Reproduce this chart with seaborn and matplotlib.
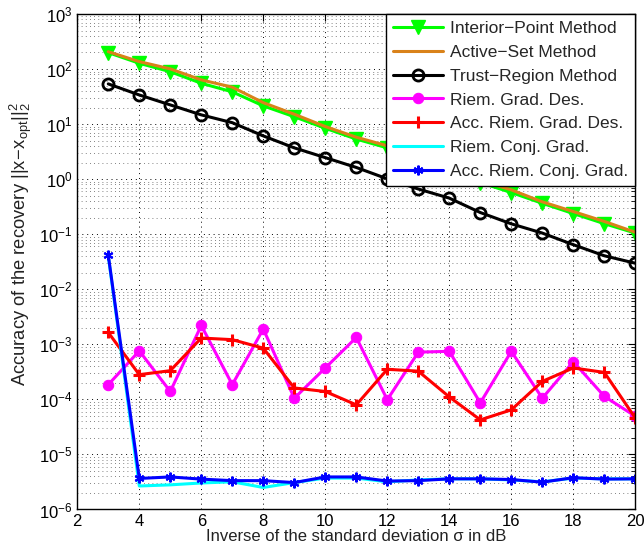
import numpy as np
import pandas as pd
import matplotlib
matplotlib.use("Agg")
import matplotlib.pyplot as plt
import seaborn as sns
from matplotlib.ticker import LogLocator, FixedLocator, NullFormatter

x = list(range(3, 21))
interior_point = [198.5, 127.2, 89.3, 55.1, 38.5, 21.4, 13.6, 8.4, 5.34, 3.70, 2.32, 1.585, 0.866, 0.571,
                  0.364, 0.237, 0.1554, 0.1048]
active_set = [206.5, 136.4, 100.6, 63.5, 46.8, 24.5, 15.1, 9.03, 5.78, 4.03, 2.49, 1.65, 0.945, 0.639,
              0.387, 0.258, 0.1706, 0.1084]
trust_region = [53.7, 33.8, 22.3, 14.7, 10.6, 6.10, 3.70, 2.46, 1.63, 1.013, 0.662, 0.452, 0.2475, 0.1543,
                0.1048, 0.0645, 0.0406, 0.0297]
riem_gd = [1.85e-4, 7.60e-4, 1.39e-4, 2.20e-3, 1.85e-4, 1.90e-3, 1.05e-4, 3.72e-4, 1.33e-3, 9.86e-5,
           7.20e-4, 7.46e-4, 8.63e-5, 7.46e-4, 1.05e-4, 4.84e-4, 1.135e-4, 4.93e-5]
acc_riem_gd = [1.64e-3, 2.81e-4, 3.32e-4, 1.30e-3, 1.215e-3, 8.51e-4, 1.61e-4, 1.39e-4, 7.95e-5, 3.52e-4,
               3.25e-4, 1.108e-4, 4.24e-5, 6.45e-5, 2.12e-4, 3.72e-4, 3.09e-4, 4.58e-5]
riem_cg = [4.0e-2, 2.67e-6, 2.80e-6, 3.03e-6, 3.18e-6, 2.51e-6, 3.08e-6, 3.72e-6, 3.72e-6, 3.18e-6,
           3.44e-6, 3.60e-6, 3.60e-6, 3.44e-6, 3.18e-6, 3.72e-6, 3.60e-6, 3.60e-6]
acc_riem_cg = [4.15e-2, 3.66e-6, 3.90e-6, 3.56e-6, 3.34e-6, 3.34e-6, 3.08e-6, 3.90e-6, 3.90e-6, 3.28e-6,
               3.34e-6, 3.60e-6, 3.60e-6, 3.50e-6, 3.13e-6, 3.78e-6, 3.56e-6, 3.60e-6]

labels = ["Interior\u2212Point Method", "Active\u2212Set Method", "Trust\u2212Region Method",
          "Riem. Grad. Des.", "Acc. Riem. Grad. Des.", "Riem. Conj. Grad.", "Acc. Riem. Conj. Grad."]
series = [interior_point, active_set, trust_region, riem_gd, acc_riem_gd, riem_cg, acc_riem_cg]
x_ticks = [2, 4, 6, 8, 10, 12, 14, 16, 18, 20]

sns.set_theme(style="white")
plt.rcParams["font.family"] = ["Liberation Sans", "DejaVu Sans"]
plt.rcParams["mathtext.fontset"] = "custom"
plt.rcParams["mathtext.rm"] = "Liberation Sans"
plt.rcParams["mathtext.it"] = "Liberation Sans"
plt.rcParams["mathtext.default"] = "regular"

fig = plt.figure(figsize=(6.44, 5.48), dpi=100)
ax = fig.add_axes([0.120, 0.0703, 0.8665, 0.9042])

styles = [
    dict(color="#00FF00", marker="v", markersize=9.5, markeredgewidth=1,
         markeredgecolor="#00FF00", markerfacecolor="#00FF00"),
    dict(color="#D9821A", marker="None"),
    dict(color="black", marker="o", markersize=8, markerfacecolor="none",
         markeredgecolor="black", markeredgewidth=2),
    dict(color="#FF00FF", marker="o", markersize=7.5, markeredgecolor="#FF00FF",
         markerfacecolor="#FF00FF"),
    dict(color="#FF0000", marker="+", markersize=9, markeredgewidth=2.2, markeredgecolor="#FF0000"),
    dict(color="#00FFFF", marker="None"),
    dict(color="#0000FF", marker=(6, 2, 0), markersize=7, markeredgewidth=1.5, markeredgecolor="#0000FF"),
]

for lab, vals, st in zip(labels, series, styles):
    df = pd.DataFrame({"x": x, "y": vals})
    sns.lineplot(data=df, x="x", y="y", ax=ax, label=lab, color=st["color"])
    line = ax.lines[-1]
    line.set_linestyle("-")
    line.set_linewidth(2.2)
    line.set(**st)

ax.set_yscale("log")
ax.set_xlim(2, 20)
ax.set_ylim(1e-6, 1e3)
ax.xaxis.set_major_locator(FixedLocator(x_ticks))
ax.yaxis.set_major_locator(LogLocator(base=10, numticks=20))
ax.yaxis.set_minor_locator(LogLocator(base=10, subs=np.arange(2, 10), numticks=20))
ax.yaxis.set_minor_formatter(NullFormatter())

dots = (0, (1, 4))
ax.grid(which="major", axis="both", linestyle=dots, color="black", linewidth=0.7)
ax.grid(which="minor", axis="y", linestyle=dots, color="0.35", linewidth=0.6)

ax.tick_params(which="both", direction="in", top=True, right=True, colors="black",
               labelsize=12, pad=3.5)
ax.tick_params(which="major", length=5, width=0.8)
ax.tick_params(which="minor", length=3, width=0.6)
for s in ax.spines.values():
    s.set_color("black")
    s.set_linewidth(1.0)

ax.set_xlabel("Inverse of the standard deviation \u03c3 in dB", fontsize=12, labelpad=0, color="#222222")
ax.set_ylabel(r"Accuracy of the recovery $||x\!-\!x_{opt}||_2^2$", fontsize=13.2, color="#222222")
ax.yaxis.set_label_coords(-0.077, 0.535)

leg = ax.legend(loc="upper right", fontsize=12.5, frameon=True, fancybox=False, framealpha=1,
                edgecolor="black", borderaxespad=0, handlelength=2.9, handletextpad=0.4,
                labelspacing=0.5, borderpad=0.4)
leg.get_frame().set_linewidth(1.0)

fig.savefig("out.png", dpi=100)
